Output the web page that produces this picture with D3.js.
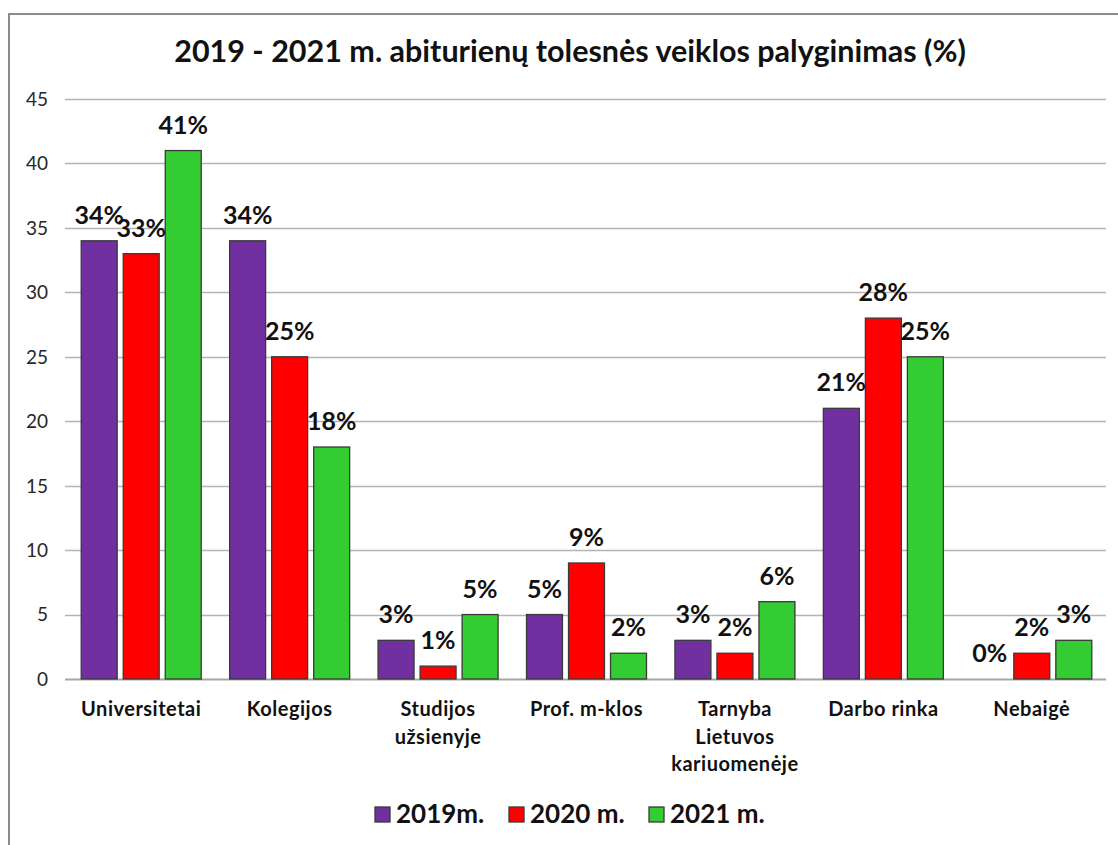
<!DOCTYPE html>
<html><head><meta charset="utf-8">
<script src="https://cdn.jsdelivr.net/npm/d3@7"></script>
<style>
html,body{margin:0;padding:0;background:#fff;}
svg{display:block;}
</style></head>
<body>
<svg id="chart" width="1118" height="845"></svg>
<script>
const categories = [["Universitetai"],["Kolegijos"],["Studijos","užsienyje"],["Prof. m-klos"],["Tarnyba","Lietuvos","kariuomenėje"],["Darbo rinka"],["Nebaigė"]];
const seriesNames = ["2019m.","2020 m.","2021 m."];
const values2019 = [34,34,3,5,3,21,0];
const values2020 = [33,25,1,9,2,28,2];
const values2021 = [41,18,5,2,6,25,3];
const yTicks = [0,5,10,15,20,25,30,35,40,45];
const colors = ["#7030A0","#FF0000","#33CC33"];
const chartTitle = "2019 - 2021 m. abiturienų tolesnės veiklos palyginimas (%)";

(function(){
const series = [values2019, values2020, values2021];
const font = "Lato, 'Open Sans', sans-serif";
const svg = d3.select("#chart");

svg.append("rect").attr("x",9).attr("y",14).attr("width",1300).attr("height",1000)
  .attr("fill","#fff").attr("stroke","#8c8c8c").attr("stroke-width",2);

const pL = 67, pR = 1106, pT = 99, pB = 679;
const x0 = d3.scaleBand().domain(d3.range(categories.length)).range([pL,pR]);
const groupW = 121;
const x1 = d3.scaleBand().domain(d3.range(3)).range([0,groupW]).paddingInner(0.12);
const y = d3.scaleLinear().domain([0,45]).range([pB,pT]);

svg.append("g").selectAll("line").data(yTicks).join("line")
  .attr("x1",pL-2).attr("x2",pR).attr("y1",d=>Math.round(y(d))+0.5).attr("y2",d=>Math.round(y(d))+0.5)
  .attr("stroke",d=>d===0?"#a6a6a6":"#b4b4b4").attr("stroke-width",d=>d===0?2:1.3);

svg.append("g").selectAll("text").data(yTicks).join("text")
  .attr("x",48).attr("y",d=>y(d)).attr("dy","0.36em").attr("text-anchor","end")
  .attr("font-family",font).attr("font-size",19).attr("fill","#262626").text(d=>d);

const groups = svg.append("g").selectAll("g").data(categories).join("g")
  .attr("transform",(d,i)=>`translate(${x0(i)+(x0.bandwidth()-groupW)/2},0)`);

groups.each(function(c,i){
  const g = d3.select(this);
  series.forEach((vals,s)=>{
    const v = vals[i];
    if(v>0){
      g.append("rect").attr("x",x1(s)+0.5).attr("y",y(v)).attr("width",x1.bandwidth()-1).attr("height",y(0)-y(v))
        .attr("fill",colors[s]).attr("stroke","#3a3a3a").attr("stroke-width",1.3);
    }
  });
  series.forEach((vals,s)=>{
    const v = vals[i];
    g.append("text").attr("x",x1(s)+x1.bandwidth()/2).attr("y",y(v)-17)
      .attr("text-anchor","middle").attr("font-family",font).attr("font-weight","bold")
      .attr("font-size",25).attr("fill","#111").text(v+"%");
  });
  const t = g.append("text").attr("text-anchor","middle").attr("font-family",font)
    .attr("font-weight","bold").attr("font-size",20).attr("letter-spacing",0.5).attr("fill","#111");
  c.forEach((line,k)=>{
    t.append("tspan").attr("x",groupW/2).attr("y",716+k*27.5).text(line);
  });
});

svg.append("text").attr("x",570).attr("y",62).attr("text-anchor","middle")
  .attr("font-family",font).attr("font-weight","bold").attr("font-size",30.5).attr("fill","#111").text(chartTitle);

const legendX = [375,509,649];
const leg = svg.append("g").selectAll("g").data(seriesNames).join("g")
  .attr("transform",(d,i)=>`translate(${legendX[i]},0)`);
leg.append("rect").attr("x",0).attr("y",807).attr("width",15).attr("height",15)
  .attr("fill",(d,i)=>colors[i]).attr("stroke","#3a3a3a").attr("stroke-width",1.3);
leg.append("text").attr("x",21).attr("y",823).attr("font-family",font).attr("font-weight","bold")
  .attr("font-size",26).attr("fill","#111").text(d=>d);
})();
</script>
</body></html>
